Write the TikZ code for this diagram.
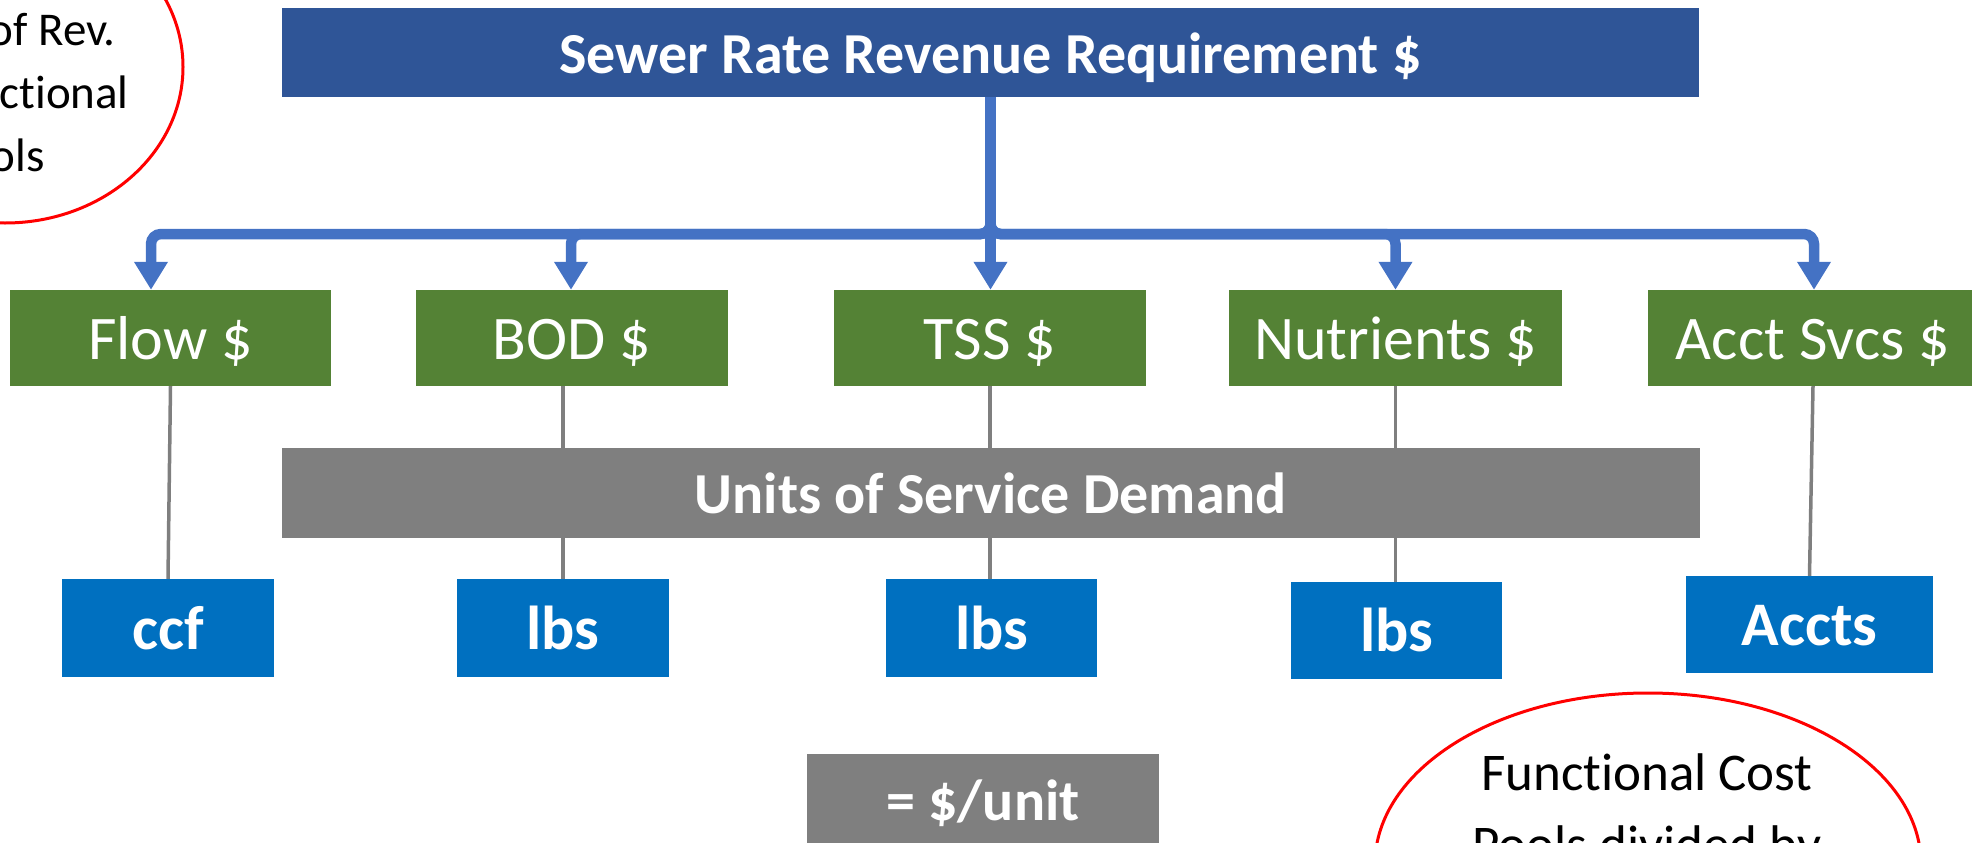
\documentclass[tikz,border=0pt]{standalone}
\usepackage{fontspec}
\setmainfont{Carlito}[Ligatures=NoCommon]
\usetikzlibrary{arrows.meta,shapes.geometric}
\definecolor{titleblue}{HTML}{2F5597}
\definecolor{linkblue}{HTML}{4472C4}
\definecolor{poolgreen}{HTML}{548235}
\definecolor{unitblue}{HTML}{0070C0}
\definecolor{midgray}{HTML}{7F7F7F}
\begin{document}
\begin{tikzpicture}[x=1bp,y=-1bp,
  box/.style={rectangle, inner sep=0pt, text=white, text depth=0pt},
  headbox/.style={box, fill=titleblue, text height=41bp, font=\fontsize{58bp}{70bp}\selectfont\bfseries},
  poolbox/.style={box, fill=poolgreen, minimum height=96bp, text height=42bp, font=\fontsize{62bp}{74bp}\selectfont},
  unitbox/.style={box, fill=unitblue, text height=42bp, font=\fontsize{62bp}{74bp}\selectfont\bfseries},
  graybox/.style={box, fill=midgray, text height=40bp, font=\fontsize{58bp}{70bp}\selectfont\bfseries},
  feed/.style={draw=linkblue, line width=10.5bp, rounded corners=10bp, -{Triangle[width=32bp,length=28bp]}},
  tie/.style={draw=midgray, line width=3.5bp},
  callout/.style={ellipse, draw=red, line width=3bp, inner sep=0pt},
  notetext/.style={font=\fontsize{47bp}{63bp}\selectfont, text=black, inner sep=0pt},
]
\useasboundingbox (0,0) rectangle (1972,843);

% revenue requirement
\node[headbox, minimum width=1417bp, minimum height=89bp] (title) at (990.5,52.5) {Sewer Rate Revenue Requirement \$};

% functional cost pools
\node[poolbox, minimum width=321bp] (flow) at (170.5,338) {Flow \$};
\node[poolbox, minimum width=312bp] (bod)  at (572,338)   {BOD \$};
\node[poolbox, minimum width=312bp] (tss)  at (990,338)   {TSS \$};
\node[poolbox, minimum width=333bp] (nutr) at (1395.5,338) {Nutrients \$};
\node[poolbox, minimum width=330bp] (acct) at (1813,338)  {Acct Svcs \$};

% units of service
\node[unitbox, minimum width=212bp, minimum height=98bp] (ccf)   at (168,628)      {ccf};
\node[unitbox, minimum width=212bp, minimum height=98bp] (lbsb)  at (563,628)      {lbs};
\node[unitbox, minimum width=211bp, minimum height=98bp] (lbst)  at (991.5,628)    {lbs};
\node[unitbox, minimum width=211bp, minimum height=97bp] (lbsn)  at (1396.5,630.5) {lbs};
\node[unitbox, minimum width=247bp, minimum height=97bp] (accts) at (1809.5,624.5) {Accts};

% pool-to-unit ties (the middle three run behind the demand bar)
\draw[tie] (flow.south) -- (ccf.north);
\draw[tie] (lbsb.north |- bod.south) -- (lbsb.north);
\draw[tie] (tss.south) -- (tss.south |- lbst.north);
\draw[tie] (nutr.south) -- (nutr.south |- lbsn.north);
\draw[tie] (acct.south) -- (accts.north);

\node[graybox, minimum width=1418bp, minimum height=90bp] (demand) at (991,493) {Units of Service Demand};
\node[graybox, minimum width=352bp, minimum height=106bp, text depth=14bp] (rate) at (983,807) {= \$/unit};

% distribution of the requirement to the pools
\coordinate (bus) at (title.south |- 0,234);
\draw[feed] (title.south) -- (bus) -| ([xshift=-19.5bp]flow.north);
\draw[feed] (title.south) -- (bus) -| ([xshift=-1bp]bod.north);
\draw[feed] (title.south) -- (title.south |- tss.north);
\draw[feed] (title.south) -- (bus) -| (nutr.north);
\draw[feed] (title.south) -- (bus) -| ([xshift=1bp]acct.north);

% callouts
\node[callout, minimum width=356bp, minimum height=312bp] (noteA) at (5,67) {};
\node[notetext, anchor=base east] (noteA1) at (116,45)  {of Rev.};
\node[notetext, anchor=base east] (noteA2) at (129,108) {ctional};
\node[notetext, anchor=base east] (noteA3) at (45,171)  {ols};

\node[callout, minimum width=546bp, minimum height=342bp] (noteB) at (1648,864) {};
\node[notetext, font=\fontsize{53bp}{72bp}\selectfont, anchor=base] (noteB1) at (1647,790) {Functional Cost};
\node[notetext, font=\fontsize{53bp}{72bp}\selectfont, anchor=base] (noteB2) at (1647,862) {Pools divided by};
\end{tikzpicture}
\end{document}
